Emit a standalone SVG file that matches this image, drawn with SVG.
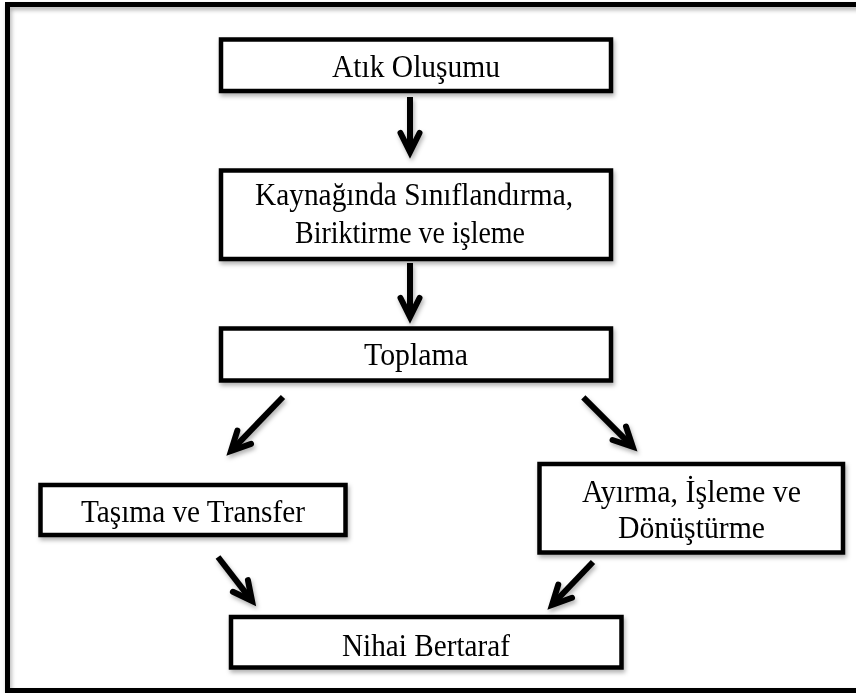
<svg xmlns="http://www.w3.org/2000/svg" width="856" height="693" viewBox="0 0 856 693">
  <style>
    .box { fill: #ffffff; stroke: #000000; stroke-width: 4.5; }
    .lbl { font-family: "Liberation Serif", "Times New Roman", serif; font-size: 32px; fill: #000000; text-anchor: middle; }
    .conn { fill: none; stroke: #000000; stroke-width: 6; marker-end: url(#chevron); }
  </style>
  <defs>
    <filter id="shadow" x="-10%" y="-10%" width="130%" height="140%">
      <feDropShadow dx="1.5" dy="3" stdDeviation="2" flood-color="#000000" flood-opacity="0.3"/>
    </filter>
    <marker id="chevron" markerUnits="userSpaceOnUse" viewBox="-30 -18 38 36" markerWidth="38" markerHeight="36" refX="0" refY="0" orient="auto" overflow="visible">
      <path d="M-16,-9.5 L3,0 L-16,9.5" fill="none" stroke="#000000" stroke-width="6" stroke-linejoin="miter" stroke-linecap="round" stroke-miterlimit="10"/>
    </marker>
  </defs>

  <rect width="856" height="693" fill="#ffffff"/>

  <!-- outer frame -->
  <rect x="7.5" y="4.5" width="870" height="686" fill="none" stroke="#000000" stroke-width="5" filter="url(#shadow)"/>

  <g id="atik-olusumu" filter="url(#shadow)">
    <rect class="box" x="221" y="39.5" width="390" height="51.5"/>
    <text class="lbl" x="416" y="77" textLength="168" lengthAdjust="spacingAndGlyphs">Atık Oluşumu</text>
  </g>

  <g id="kaynaginda" filter="url(#shadow)">
    <rect class="box" x="221" y="170.5" width="390" height="88.5"/>
    <text class="lbl" x="414" y="205" textLength="318" lengthAdjust="spacingAndGlyphs">Kaynağında Sınıflandırma,</text>
    <text class="lbl" x="410" y="243" textLength="230" lengthAdjust="spacingAndGlyphs">Biriktirme ve işleme</text>
  </g>

  <g id="toplama" filter="url(#shadow)">
    <rect class="box" x="221" y="328.5" width="390" height="52"/>
    <text class="lbl" x="416" y="365" textLength="104" lengthAdjust="spacingAndGlyphs">Toplama</text>
  </g>

  <g id="tasima" filter="url(#shadow)">
    <rect class="box" x="40.5" y="485" width="305" height="50"/>
    <text class="lbl" x="193" y="522" textLength="224" lengthAdjust="spacingAndGlyphs">Taşıma ve Transfer</text>
  </g>

  <g id="ayirma" filter="url(#shadow)">
    <rect class="box" x="539.5" y="464" width="303.5" height="88.5"/>
    <text class="lbl" x="691.5" y="502" textLength="219" lengthAdjust="spacingAndGlyphs">Ayırma, İşleme ve</text>
    <text class="lbl" x="691.5" y="538" textLength="147" lengthAdjust="spacingAndGlyphs">Dönüştürme</text>
  </g>

  <g id="nihai-bertaraf" filter="url(#shadow)">
    <rect class="box" x="231" y="617" width="390.5" height="50.5"/>
    <text class="lbl" x="426" y="656" textLength="168" lengthAdjust="spacingAndGlyphs">Nihai Bertaraf</text>
  </g>

  <g id="connectors" filter="url(#shadow)">
    <line class="conn" x1="410" y1="97" x2="410" y2="149"/>
    <line class="conn" x1="410" y1="263" x2="410" y2="314"/>
    <line class="conn" x1="283" y1="397" x2="233.1" y2="448.8"/>
    <line class="conn" x1="583.3" y1="397.3" x2="630.6" y2="444.6"/>
    <line class="conn" x1="218" y1="557" x2="250.2" y2="598.6"/>
    <line class="conn" x1="593" y1="562" x2="554.1" y2="602.8"/>
  </g>
</svg>
